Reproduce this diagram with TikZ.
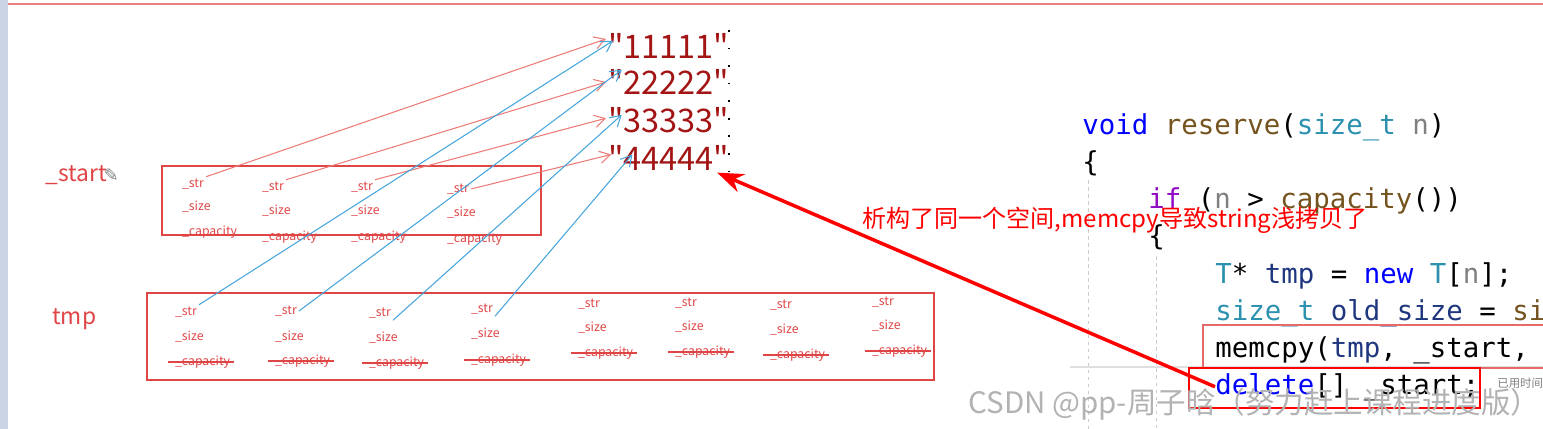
\documentclass[tikz,border=0pt]{standalone}
\usepackage{fontspec}
\setmainfont{Noto Sans CJK SC}
\newfontfamily\codefont{DejaVu Sans Mono}
\newfontfamily\symfont{DejaVu Sans}
\newfontfamily\litfont[Ligatures=TeXOff]{Noto Sans CJK SC}
\usetikzlibrary{arrows.meta}

\definecolor{inkred}{HTML}{E04545}
\definecolor{penred}{HTML}{EC7B78}
\definecolor{penblue}{HTML}{45A5DD}
\definecolor{strred}{HTML}{A31515}
\definecolor{kwblue}{HTML}{0000FF}
\definecolor{fnbrown}{HTML}{74531F}
\definecolor{tyteal}{HTML}{2B91AF}
\definecolor{prmgray}{HTML}{808080}
\definecolor{locblue}{HTML}{1F377F}
\definecolor{ctlpurple}{HTML}{8F08C4}

\begin{document}
\begin{tikzpicture}[x=0.02cm, y=-0.02cm, >={Straight Barb[length=6pt,width=7pt]},
    lbl/.style={text=inkred, font=\fontsize{7}{8}\selectfont, inner sep=1pt, anchor=west},
    varname/.style={text=inkred, font=\fontsize{13}{15}\selectfont, inner sep=0pt, anchor=west},
    strlit/.style={text=strred, font=\litfont\fontsize{18.5}{22}\selectfont, inner sep=1pt, anchor=west},
    codeline/.style={font=\codefont\fontsize{15.6}{18}\selectfont, inner sep=0pt, anchor=base west},
    penr/.style={draw=penred, line width=0.6pt, ->},
    penb/.style={draw=penblue, line width=0.6pt, ->},
    strike/.style={draw=inkred, line width=0.6pt}]
    \useasboundingbox (0,0) rectangle (1543,429);

    % screen edges
    \fill[fill={rgb,255:red,201;green,211;blue,227}] (0,0) rectangle (8,429);
    \draw[draw={rgb,255:red,232;green,128;blue,128}, line width=0.9pt] (8,4) -- (1543,4);

    % the string array
    \node[strlit] (s1) at (606,46) {"11111"};
    \node[strlit] (s2) at (606,82) {"22222"};
    \node[strlit] (s3) at (606,120) {"33333"};
    \node[strlit] (s4) at (606,158) {"44444"};
    \draw[black, line width=1pt, dash pattern=on 1pt off 9pt] (729,30) -- (729,176);

    % _start block
    \node[varname] (start) at (45,175) {\_start};
    \node[text=gray, font=\symfont\fontsize{10}{12}\selectfont, inner sep=0pt, anchor=west] (pen) at ([xshift=-2pt]start.east) {✎};
    \draw[inkred, line width=0.8pt] (162,166) rectangle (541,235);

    \node[lbl] (a1str) at (180,184) {\_str};
    \node[lbl] (a1size) at (180,207) {\_size};
    \node[lbl] (a1cap) at (180,232) {\_capacity};
    \node[lbl] (a2str) at (260,187) {\_str};
    \node[lbl] (a2size) at (260,211) {\_size};
    \node[lbl] (a2cap) at (260,237) {\_capacity};
    \node[lbl] (a3str) at (349,187) {\_str};
    \node[lbl] (a3size) at (349,211) {\_size};
    \node[lbl] (a3cap) at (349,237) {\_capacity};
    \node[lbl] (a4str) at (445,189) {\_str};
    \node[lbl] (a4size) at (445,213) {\_size};
    \node[lbl] (a4cap) at (445,239) {\_capacity};

    % tmp block
    \node[varname] (tmp) at (52,319) {tmp};
    \draw[inkred, line width=0.8pt] (147,293) rectangle (934,380);

    \node[lbl] (t1str) at (173,312) {\_str};
    \node[lbl] (t1size) at (173,337) {\_size};
    \node[lbl] (t1cap) at (173,362) {\_capacity};
    \node[lbl] (t2str) at (273,311) {\_str};
    \node[lbl] (t2size) at (273,337) {\_size};
    \node[lbl] (t2cap) at (273,361) {\_capacity};
    \node[lbl] (t3str) at (367,313) {\_str};
    \node[lbl] (t3size) at (367,338) {\_size};
    \node[lbl] (t3cap) at (367,363) {\_capacity};
    \node[lbl] (t4str) at (469,309) {\_str};
    \node[lbl] (t4size) at (469,334) {\_size};
    \node[lbl] (t4cap) at (469,360) {\_capacity};
    \node[lbl] (t5str) at (576,304) {\_str};
    \node[lbl] (t5size) at (576,328) {\_size};
    \node[lbl] (t5cap) at (576,353) {\_capacity};
    \node[lbl] (t6str) at (673,303) {\_str};
    \node[lbl] (t6size) at (673,327) {\_size};
    \node[lbl] (t6cap) at (673,352) {\_capacity};
    \node[lbl] (t7str) at (768,305) {\_str};
    \node[lbl] (t7size) at (768,330) {\_size};
    \node[lbl] (t7cap) at (768,355) {\_capacity};
    \node[lbl] (t8str) at (870,302) {\_str};
    \node[lbl] (t8size) at (870,326) {\_size};
    \node[lbl] (t8cap) at (870,351) {\_capacity};

    \draw[strike] ([xshift=-3pt]t1cap.west) -- ([xshift=1pt]t1cap.east);
    \draw[strike] ([xshift=-3pt]t2cap.west) -- ([xshift=1pt]t2cap.east);
    \draw[strike] ([xshift=-3pt]t3cap.west) -- ([xshift=1pt]t3cap.east);
    \draw[strike] ([xshift=-3pt]t4cap.west) -- ([xshift=1pt]t4cap.east);
    \draw[strike] ([xshift=-3pt]t5cap.west) -- ([xshift=1pt]t5cap.east);
    \draw[strike] ([xshift=-3pt]t6cap.west) -- ([xshift=1pt]t6cap.east);
    \draw[strike] ([xshift=-3pt]t7cap.west) -- ([xshift=1pt]t7cap.east);
    \draw[strike] ([xshift=-3pt]t8cap.west) -- ([xshift=1pt]t8cap.east);

    % pointers of _start
    \draw[penr] (a1str.north east) -- ([yshift=4pt]s1.west);
    \draw[penr] (a2str.north east) -- (s2.west);
    \draw[penr] (a3str.north east) -- ([yshift=1pt]s3.west);
    \draw[penr] (a4str.east) -- ([xshift=3pt,yshift=2pt]s4.west);

    % pointers of tmp
    \draw[penb] (t1str.north east) -- ([xshift=4pt,yshift=3pt]s1.west);
    \draw[penb] (t2str.east) -- ([xshift=9pt,yshift=7pt]s2.west);
    \draw[penb] (t3str.south east) -- ([xshift=9pt,yshift=3pt]s3.west);
    \draw[penb] (t4str.south east) -- ([xshift=15pt,yshift=2pt]s4.west);

    % code
    \draw[gray!40, dash pattern=on 2pt off 2pt] (1088,180) -- (1088,429);
    \draw[gray!40, dash pattern=on 2pt off 2pt] (1156,256) -- (1156,429);
    \draw[gray!25, line width=0.8pt] (1070,367) -- (1543,367);

    \node[codeline] (c1) at (1082,135) {\textcolor{kwblue}{void} \textcolor{fnbrown}{reserve}(\textcolor{tyteal}{size\_t} \textcolor{prmgray}{n})};
    \node[codeline] (c2) at (1082,172) {\{};
    \node[codeline] (c3) at (1148,209) {\textcolor{ctlpurple}{if} (\textcolor{prmgray}{n} > \textcolor{fnbrown}{capacity}())};
    \node[codeline] (c4) at (1148,246) {\{};
    \node[codeline] (c5) at (1215,283) {\textcolor{tyteal}{T}* \textcolor{locblue}{tmp} = \textcolor{kwblue}{new} \textcolor{tyteal}{T}[\textcolor{prmgray}{n}];};
    \node[codeline] (c6) at (1215,320) {\textcolor{tyteal}{size\_t} \textcolor{locblue}{old\_size} = \textcolor{fnbrown}{si}};
    \node[codeline] (c7) at (1215,357) {memcpy(\textcolor{locblue}{tmp}, \_start,};
    \node[codeline] (del) at (1215,394) {\textcolor{kwblue}{delete}[] \_start;};

    \draw[inkred!80, line width=0.7pt] (1543,325) -- (1203,325) -- (1203,368) -- (1543,368);
    \draw[red, line width=1.4pt] (1189,368) rectangle (1480,408);

    \node[text=gray, font=\fontsize{6.5}{7}\selectfont, inner sep=0pt, anchor=west] (used) at (1497,383) {已用时间};

    % the remark
    \draw[red, line width=2pt, -{Stealth[length=15pt,width=11pt]}] (del.west) -- ([xshift=-8pt]s4.south east);
    \node[text=red, font=\fontsize{13.7}{16}\selectfont, inner sep=0pt, anchor=west] (note) at (862,220) {析构了同一个空间,memcpy导致string浅拷贝了};

    \node[text=gray!60, font=\fontsize{16.8}{18}\selectfont, inner sep=0pt, anchor=west] (mark) at (968,404) {CSDN @pp-周子晗（努力赶上课程进度版）};
\end{tikzpicture}
\end{document}
